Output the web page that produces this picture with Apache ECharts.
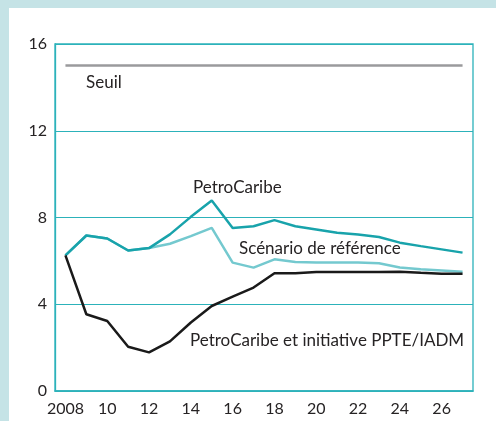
<!DOCTYPE html>
<html>
<head>
<meta charset="utf-8">
<script src="https://cdn.jsdelivr.net/npm/echarts@6/dist/echarts.min.js"></script>
<style>
  html, body { margin: 0; padding: 0; background: #c5e3e6; }
  #main { position: absolute; left: 9px; top: 8px; width: 487px; height: 413px; background: #fff; }
</style>
</head>
<body>
<div id="main"></div>
<script>
const years = ['2008', '2009', '2010', '2011', '2012', '2013', '2014', '2015', '2016', '2017',
  '2018', '2019', '2020', '2021', '2022', '2023', '2024', '2025', '2026', '2027'];
const petroCaribe = [6.25, 7.17, 7.03, 6.48, 6.59, 7.22, 8.03, 8.78, 7.52, 7.6,
  7.88, 7.6, 7.45, 7.3, 7.22, 7.1, 6.84, 6.68, 6.53, 6.38];
const reference = [6.25, 7.17, 7.03, 6.48, 6.59, 6.79, 7.14, 7.52, 5.92, 5.69,
  6.07, 5.95, 5.92, 5.92, 5.92, 5.89, 5.69, 5.61, 5.56, 5.5];
const ppte = [6.25, 3.54, 3.23, 2.04, 1.78, 2.29, 3.16, 3.92, 4.35, 4.77,
  5.43, 5.43, 5.49, 5.49, 5.49, 5.49, 5.5, 5.45, 5.41, 5.41];
const seuil = 15;
const yTicks = [0, 4, 8, 12, 16];

const teal = '#2cb2ba';
const font = 'Lato, "Open Sans", sans-serif';
const chart = echarts.init(document.getElementById('main'));

const label = (text, x, y) => ({
  type: 'text', x: x, y: y,
  style: { text: text, font: '17px ' + font, fill: '#262324', verticalAlign: 'middle' }
});

chart.setOption({
  animation: false,
  grid: { left: 46, right: 23, top: 36, bottom: 30, show: true, borderColor: teal, borderWidth: 1.3 },
  xAxis: {
    type: 'category',
    data: years,
    boundaryGap: true,
    axisLine: { lineStyle: { color: teal, width: 1.5 } },
    axisTick: { inside: true, length: 8, interval: 0, lineStyle: { color: teal, width: 1.3 } },
    axisLabel: {
      interval: 1, margin: 10, color: '#262324', fontSize: 16, fontFamily: font,
      formatter: v => v === '2008' ? v : v.slice(2)
    }
  },
  yAxis: {
    type: 'value',
    min: yTicks[0], max: yTicks[yTicks.length - 1], interval: 4,
    axisLine: { show: true, lineStyle: { color: teal, width: 1.3 } },
    axisTick: { show: false },
    axisLabel: { color: '#262324', fontSize: 16, fontFamily: font, margin: 8 },
    splitLine: { lineStyle: { color: teal, width: 1.2 } }
  },
  series: [
    {
      name: 'Seuil', type: 'line', data: [], silent: true,
      markLine: {
        symbol: 'none', silent: true, label: { show: false },
        lineStyle: { color: '#9a9a9c', width: 2.5, type: 'solid' },
        data: [[{ coord: [years[0], seuil] }, { coord: [years[years.length - 1], seuil] }]]
      }
    },
    { name: 'Scénario de référence', type: 'line', data: reference, symbol: 'none',
      lineStyle: { color: '#74c9cf', width: 2.5 }, z: 2 },
    { name: 'PetroCaribe', type: 'line', data: petroCaribe, symbol: 'none',
      lineStyle: { color: '#18a3ab', width: 2.5 }, z: 3 },
    { name: 'PetroCaribe et initiative PPTE/IADM', type: 'line', data: ppte, symbol: 'none',
      lineStyle: { color: '#1a1a1a', width: 2.5 }, z: 4 }
  ],
  graphic: [
    label('Seuil', 77, 75),
    label('PetroCaribe', 184, 180),
    label('Scénario de référence', 230, 241),
    label('PetroCaribe et initiative PPTE/IADM', 181, 333)
  ]
});
</script>
</body>
</html>
